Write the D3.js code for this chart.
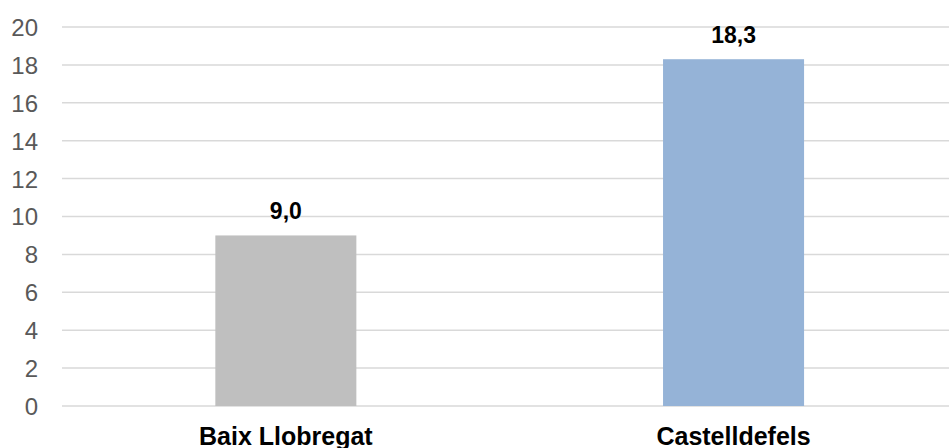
<!DOCTYPE html>
<html>
<head>
<meta charset="utf-8">
<script src="https://cdn.jsdelivr.net/npm/d3@7"></script>
<style>
  html, body { margin: 0; padding: 0; background: #ffffff; overflow: hidden; }
  svg { display: block; }
</style>
</head>
<body>
<script>
const categories = ["Baix Llobregat", "Castelldefels"];
const values = [9.0, 18.3];
const barColors = ["#bfbfbf", "#95b3d7"];
const yTicks = [0, 2, 4, 6, 8, 10, 12, 14, 16, 18, 20];

const W = 949, H = 448;
const svg = d3.select("body").append("svg").attr("width", W).attr("height", H);

const x = d3.scaleBand().domain(categories).range([62, 957.4]).paddingInner(0.685).paddingOuter(0.3425);
const y = d3.scaleLinear().domain([0, 20]).range([406, 27]);

const font = "'Liberation Sans', Arial, sans-serif";

// gridlines
svg.append("g").selectAll("line").data(yTicks).join("line")
  .attr("x1", 62).attr("x2", 957)
  .attr("y1", d => y(d)).attr("y2", d => y(d))
  .attr("stroke", "#d9d9d9").attr("stroke-width", 1.5);

// y axis labels
const yAxis = d3.axisLeft(y).tickValues(yTicks).tickSize(0).tickPadding(0).tickFormat(d3.format("d"));
const gy = svg.append("g").attr("transform", "translate(38,0)").call(yAxis);
gy.select(".domain").remove();
gy.selectAll("text").attr("font-family", font).attr("font-size", 24).attr("fill", "#595959").attr("dy", "0.35em");

// bars
svg.append("g").selectAll("rect").data(categories).join("rect")
  .attr("x", d => x(d)).attr("width", x.bandwidth())
  .attr("y", (d, i) => y(values[i])).attr("height", (d, i) => y(0) - y(values[i]))
  .attr("fill", (d, i) => barColors[i]);

// value labels
const fmt = v => v.toFixed(1).replace(".", ",");
svg.append("g").selectAll("text").data(categories).join("text")
  .attr("x", d => x(d) + x.bandwidth() / 2)
  .attr("y", (d, i) => y(values[i]) - 16.5)
  .attr("text-anchor", "middle")
  .attr("font-family", font).attr("font-size", 23).attr("font-weight", "bold").attr("fill", "#000")
  .text((d, i) => fmt(values[i]));

// category labels
const xAxis = d3.axisBottom(x).tickSize(0).tickPadding(0);
const gx = svg.append("g").attr("transform", "translate(0,0)").call(xAxis);
gx.select(".domain").remove();
gx.selectAll("text").attr("font-family", font).attr("font-size", 25).attr("font-weight", "bold")
  .attr("fill", "#000").attr("y", 445).attr("dy", null);
</script>
</body>
</html>
